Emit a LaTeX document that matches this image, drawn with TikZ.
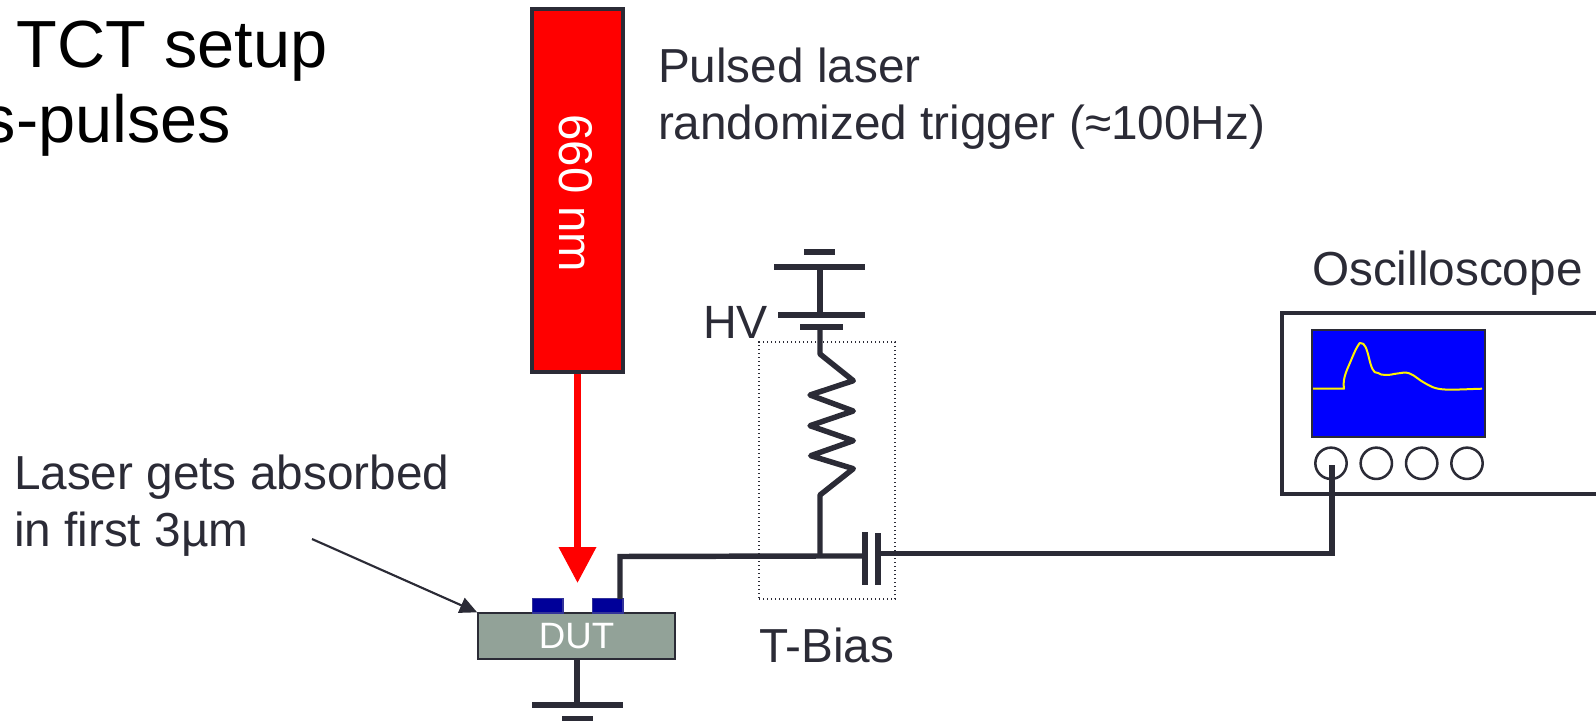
\documentclass[tikz,border=0pt]{standalone}
\usepackage{fontspec}
\setmainfont{Liberation Sans}
\usetikzlibrary{arrows.meta}
\definecolor{ink}{HTML}{2B2B36}
\definecolor{dutfill}{HTML}{92A298}
\definecolor{padfill}{HTML}{000099}
\definecolor{padline}{HTML}{333399}
\tikzset{
  x=0.75pt,y=-0.75pt,
  txt/.style={inner sep=0pt,outer sep=0pt,anchor=base west,text=ink,font=\fontsize{35.8}{36}\selectfont},
  title/.style={inner sep=0pt,outer sep=0pt,text=black,font=\fontsize{50}{50}\selectfont},
  wire/.style={draw=ink,line width=4.1pt},
  thinwire/.style={draw=ink,line width=3pt},
  pad/.style={draw=padline,fill=padfill,line width=1pt,inner sep=0pt,minimum width=23pt,minimum height=11pt},
  knob/.style={circle,draw=ink,line width=1.9pt,inner sep=0pt,minimum size=23.5pt}
}
\begin{document}
\begin{tikzpicture}
\clip (0,0) rectangle (1596,721);
\useasboundingbox (0,0) rectangle (1596,721);
% titles
\node[title,anchor=base west] (t1) at (16.5,67) {TCT setup};
\node[title,anchor=base east] (t2) at (231,142) {s-pulses};
% texts
\node[txt] (pl) at (658,82) {Pulsed laser};
\node[txt] (rt) at (658,139.5) {randomized trigger (≈100Hz)};
\node[txt] (osc) at (1312,285) {Oscilloscope};
\node[txt,font=\fontsize{35}{36}\selectfont] (hv) at (703,338) {HV};
\node[txt] (tb) at (759,662) {T-Bias};
\node[txt] (la) at (14,489.5) {Laser gets absorbed};
\node[txt] (lb) at (14,546.5) {in first 3µm};
% T-bias box
\node[draw=ink,dotted,line width=1pt,inner sep=0pt,minimum width=102pt,minimum height=192.75pt] (tbox) at (827,470.5) {};
% laser beam
\node[draw=ink,fill=red,line width=3pt,inner sep=0pt,minimum width=68.25pt,minimum height=272.25pt] (laser) at (577.5,190.5) {};
\node[inner sep=0pt,rotate=-90,text=white,font=\fontsize{35.5}{36}\selectfont] (laserlabel) at (576,193.5) {660 nm};
\coordinate (beamend) at (577.5,583);
\draw[draw=red,line width=5.2pt,-{Triangle[length=27pt,width=27pt]}] (laser.south) -- (beamend);
% DUT
\node[draw=ink,fill=dutfill,line width=1.5pt,inner sep=0pt,minimum width=147.5pt,minimum height=34pt,text=white,font=\fontsize{27.5}{27.5}\selectfont] (dut) at (576.5,636) {DUT};
\node[pad] (pad1) at (547.5,605.5) {};
\node[pad] (pad2) at (607.5,605.5) {};
% ground
\coordinate (gnd) at (577,705);
\coordinate (gl) at (532,705); \coordinate (gr) at (623,705);
\coordinate (gsl) at (562,719); \coordinate (gsr) at (593,719);
\draw[wire] (dut.south -| gnd) -- (gnd);
\draw[wire] (gl) -- (gr);
\draw[wire] (gsl) -- (gsr);
% signal wire
\coordinate (padtop) at (620,599);
\coordinate (junction) at (820,556);
\coordinate (capa) at (865,556);
\draw[wire] (padtop) -- (620,556.5) -- (junction) -- (capa);
% capacitor
\coordinate (c1t) at (865,532); \coordinate (c1b) at (865,585);
\coordinate (c2t) at (878,533); \coordinate (c2b) at (878,585);
\draw[wire] (c1t) -- (c1b);
\draw[wire] (c2t) -- (c2b);
% oscilloscope
\coordinate (sl) at (1282,313);
\draw[thinwire,line join=miter] (1600,313) -- (sl) -- (1282,494) -- (1600,494);
\node[draw=ink,fill=blue,line width=1.5pt,inner sep=0pt,minimum width=129.5pt,minimum height=80pt] (screen) at (1398.5,383.5) {};
\node[knob] (k1) at (1331,463.3) {};
\node[knob] (k2) at (1376.3,463.3) {};
\node[knob] (k3) at (1421.7,463.3) {};
\node[knob] (k4) at (1467,463.3) {};
\draw[yellow,line width=1.5pt,line join=round] (1313,388.7) -- (1344,388.7)
  .. controls (1342,378) and (1348,368) .. (1352,358)
  .. controls (1356,348) and (1360,342) .. (1360,343)
  .. controls (1365,342) and (1367,350) .. (1369,358)
  .. controls (1371,366) and (1373,374) .. (1378,373)
  .. controls (1381,376) and (1391,375) .. (1394,374)
  .. controls (1400,373) and (1406,372.5) .. (1403,372.5)
  .. controls (1412,372) and (1416,378) .. (1423,382)
  .. controls (1430,386) and (1434,389) .. (1445,389.5)
  .. controls (1455,390) and (1470,389) .. (1482,388.7);
\coordinate (sinput) at (1332,465);
\draw[wire,line join=miter] (c2t |- capa) ++(0,-2.5) -- (1332,553.5) -- (sinput);
% battery
\coordinate (bp0l) at (804,252); \coordinate (bp0r) at (835,252);
\coordinate (bp1l) at (774,267); \coordinate (bp1r) at (865,267);
\coordinate (bp2l) at (778,315); \coordinate (bp2r) at (865,315);
\coordinate (bp3l) at (800,327); \coordinate (bp3r) at (843,327);
\draw[wire] (bp0l) -- (bp0r);
\draw[wire] (bp1l) -- (bp1r);
\draw[wire] (bp2l) -- (bp2r);
\draw[wire] (bp3l) -- (bp3r);
\draw[wire] (820,267) -- (820,315);
% resistor
\draw[wire,line join=round] (820,327) -- (820,354) -- (853.3,380.7) -- (810,395) -- (853.3,411) -- (810,425.7) -- (853.3,440.7) -- (810.7,455.7) -- (853.3,468.7) -- (820,495) -- (junction);
% annotation arrow
\coordinate (ann) at (312,539);
\draw[ink,line width=1.6pt,-{Triangle[length=13pt,width=12pt]}] (ann) -- (dut.north west);
\end{tikzpicture}
\end{document}
